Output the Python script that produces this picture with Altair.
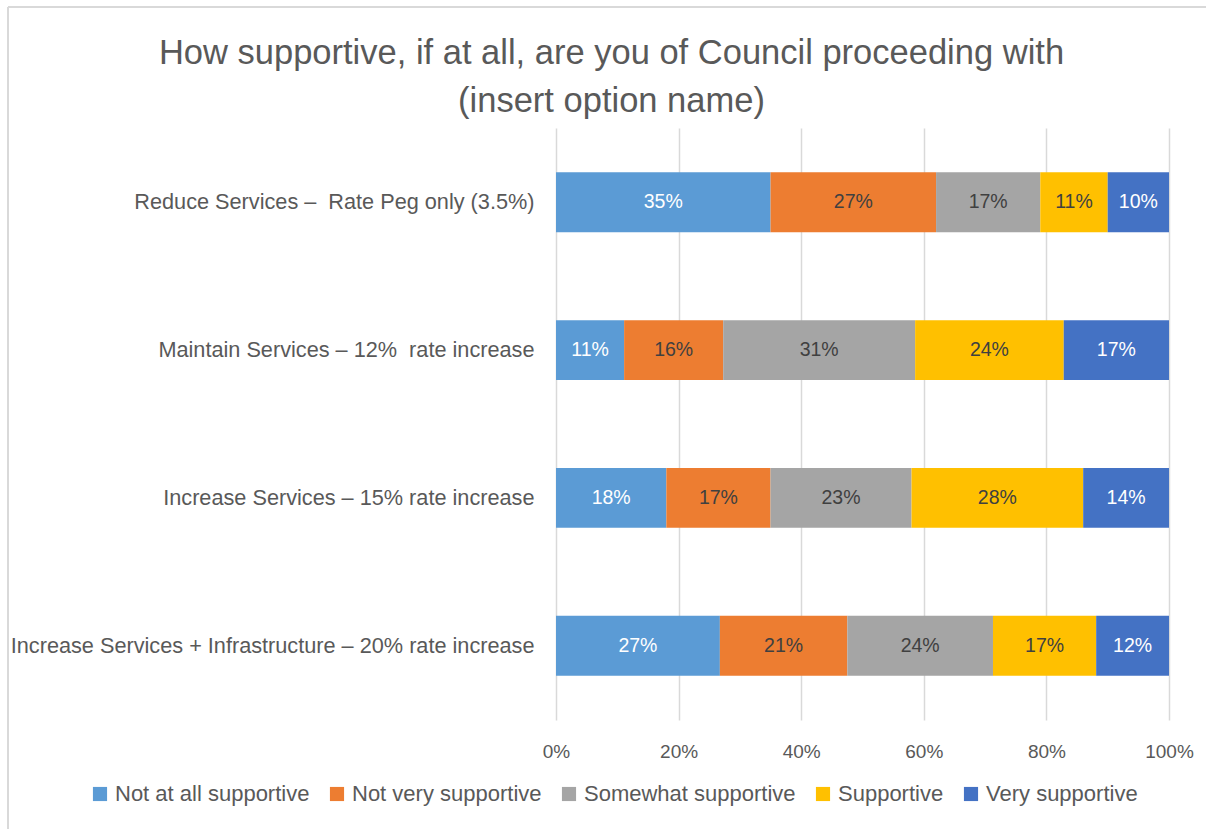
import altair as alt
import pandas as pd

NB = "\u00a0"
categories = [
    "Reduce Services –" + NB + NB + "Rate Peg only (3.5%)",
    "Maintain Services – 12%" + NB + NB + "rate increase",
    "Increase Services – 15% rate increase",
    "Increase Services + Infrastructure – 20% rate increase",
]
segments = ["Not at all supportive", "Not very supportive", "Somewhat supportive", "Supportive", "Very supportive"]
colors = ["#5B9BD5", "#ED7D31", "#A5A5A5", "#FFC000", "#4472C4"]

not_at_all = [35, 11, 18, 27]
not_very = [27, 16, 17, 21]
somewhat = [17, 31, 23, 24]
supportive = [11, 24, 28, 17]
very = [10, 17, 14, 12]

series = [not_at_all, not_very, somewhat, supportive, very]
rows = []
for si, (seg, vals) in enumerate(zip(segments, series)):
    for ci, cat in enumerate(categories):
        rows.append({"category": cat, "segment": seg, "order": si, "value": vals[ci]})
df = pd.DataFrame(rows)

FONT = "Liberation Sans"
GREY = "#595959"

base = alt.Chart(df).transform_stack(
    stack="value", groupby=["category"], as_=["x0", "x1"], offset="normalize",
    sort=[alt.SortField("order", order="ascending")]
).transform_calculate(mid="(datum.x0 + datum.x1) / 2", label="datum.value + '%'")

y_enc = alt.Y("category:N", sort=categories, title=None,
              scale=alt.Scale(paddingInner=0.595, paddingOuter=0.3),
              axis=alt.Axis(labelFont=FONT, labelFontSize=21.7, labelColor=GREY,
                            labelLimit=700, labelPadding=22, ticks=False, domain=False, grid=False))

bars = base.mark_bar().encode(
    x=alt.X("x0:Q", title=None, scale=alt.Scale(domain=[0, 1]),
            axis=alt.Axis(format="%", values=[0, 0.2, 0.4, 0.6, 0.8, 1.0], grid=True,
                          gridColor="#D9D9D9", gridWidth=1.5, domain=False, ticks=False,
                          labelFont=FONT, labelFontSize=19, labelColor=GREY,
                          labelPadding=22, labelFlush=False)),
    x2="x1:Q",
    y=y_enc,
    color=alt.Color("segment:N", sort=segments, scale=alt.Scale(domain=segments, range=colors),
                    legend=alt.Legend(title=None, orient="none", direction="horizontal",
                                      legendX=-467, legendY=655, symbolType="square",
                                      symbolSize=200, symbolStrokeWidth=0, symbolOffset=0,
                                      labelFont=FONT, labelFontSize=22,
                                      labelColor=GREY, columnPadding=16, labelLimit=400,
                                      labelOffset=4)),
    order=alt.Order("order:Q"),
)

text = base.mark_text(font=FONT, fontSize=19.5, baseline="middle").encode(
    x="mid:Q",
    y=alt.Y("category:N", sort=categories),
    text="label:N",
    color=alt.condition("datum.order == 0 || datum.order == 4", alt.value("#FFFFFF"), alt.value("#404040")),
)

frame_df = pd.DataFrame({"k": [0]})
top_line = alt.Chart(frame_df).mark_rule(color="#D9D9D9", strokeWidth=2).encode(
    x=alt.value(-548), x2=alt.value(660), y=alt.value(-121))
left_line = alt.Chart(frame_df).mark_rule(color="#D9D9D9", strokeWidth=2).encode(
    x=alt.value(-548), y=alt.value(-121), y2=alt.value(710))

chart = alt.layer(bars, text, top_line, left_line).properties(
    width=613, height=592,
    title=alt.TitleParams(
        ["How supportive, if at all, are you of Council proceeding with", "(insert option name)"],
        font=FONT, fontSize=34.5, fontWeight="normal", color=GREY,
        anchor="middle", frame="group", dx=-251, offset=-113, lineHeight=48,
    ),
    padding={"left": 556, "top": 128, "right": 37, "bottom": 109},
    autosize=alt.AutoSizeParams(type="none"),
).configure(background="white").configure_view(stroke=None)

chart.save("out.html", embed_options={"renderer": "svg", "actions": False})
